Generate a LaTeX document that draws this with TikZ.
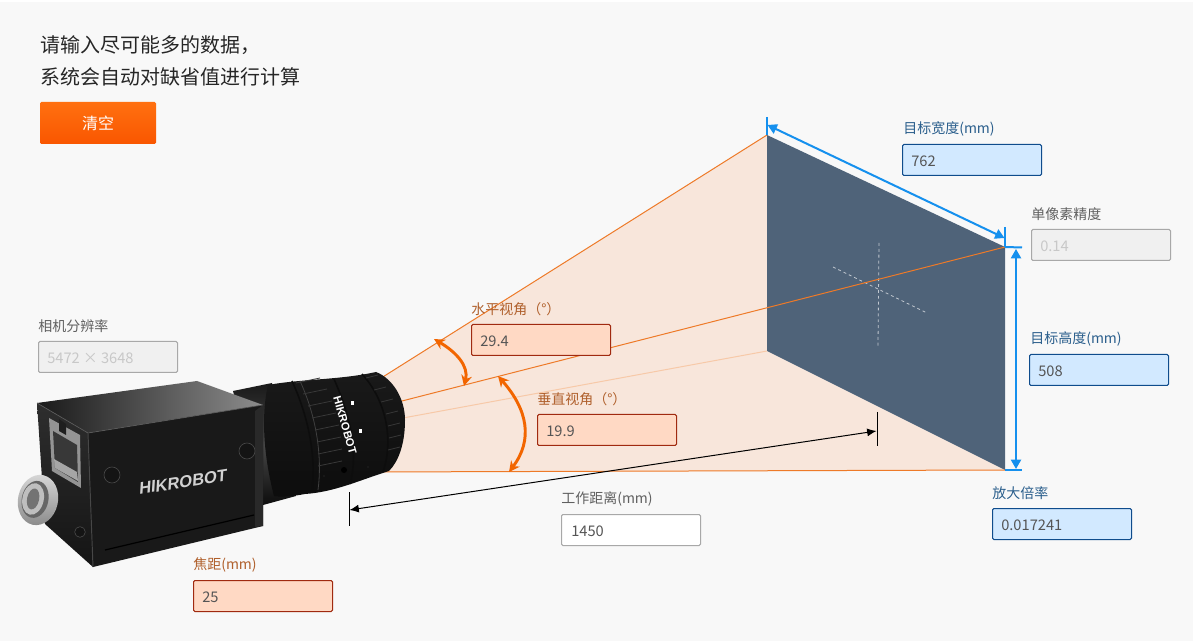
\documentclass[tikz,border=0pt]{standalone}
\usepackage{fontspec}
\setmainfont{Noto Sans CJK SC}
\setsansfont{Liberation Sans}
\newfontfamily\brandfont[FakeSlant=0.22]{Liberation Sans}
\usetikzlibrary{arrows.meta,calc}
\definecolor{pagebg}{HTML}{F8F8F8}
\definecolor{fanfill}{HTML}{F8E6DB}
\definecolor{fanline}{HTML}{EE7A28}
\definecolor{fanfaint}{HTML}{F7C9A8}
\definecolor{target}{HTML}{4F6379}
\definecolor{dimblue}{HTML}{1590EE}
\definecolor{arcor}{HTML}{F26500}
\definecolor{bluefill}{HTML}{D2E9FF}
\definecolor{blueedge}{HTML}{0F4C8C}
\definecolor{bluetxt}{HTML}{2A5E8C}
\definecolor{orfill}{HTML}{FFD9C4}
\definecolor{oredge}{HTML}{A02A10}
\definecolor{ortxt}{HTML}{B0602C}
\definecolor{greyfill}{HTML}{F0F0F0}
\definecolor{greyedge}{HTML}{A8A8A8}
\definecolor{greytxt}{HTML}{C8C8C8}
\definecolor{labtxt}{HTML}{606060}
\definecolor{valtxt}{HTML}{555555}
\definecolor{btntop}{HTML}{FF7010}
\definecolor{btnbot}{HTML}{F95600}
\tikzset{
  x=0.75pt,y=-0.75pt,
  field/.style={draw,line width=0.75pt,rounded corners=1pt,minimum width=104.25pt,minimum height=23.25pt,inner sep=0pt,outer sep=0pt,anchor=north west},
  fieldtext/.style={anchor=west,inner sep=0pt,font=\fontsize{11}{12}\selectfont,text=valtxt,yshift=-0.4pt},
  bluefield/.style={field,fill=bluefill,draw=blueedge},
  orfield/.style={field,fill=orfill,draw=oredge},
  greyfield/.style={field,fill=greyfill,draw=greyedge},
  whitefield/.style={field,fill=white,draw=greyedge},
  lab/.style={anchor=west,inner sep=0pt,font=\fontsize{10.5}{12}\selectfont,yshift=-0.6pt},
  fan/.style={draw=fanline,line width=0.75pt},
  dimb/.style={draw=dimblue,line width=1.5pt},
  dimbarrow/.style={dimb,{Triangle[length=7pt,width=7.5pt]}-{Triangle[length=7pt,width=7.5pt]}},
  dimk/.style={draw=black,line width=0.75pt},
  arcarrow/.style={draw=arcor,line width=2.2pt,{Stealth[length=8pt,width=8pt]}-{Stealth[length=8pt,width=8pt]}},
  rib/.style={draw=#1,line width=0.6pt},
  rib/.default=black!60,
  screw/.style={circle,fill=black!92,draw=black!72,line width=0.5pt,minimum size=12pt,inner sep=0pt},
}
\begin{document}
\begin{tikzpicture}
\useasboundingbox (0,0) rectangle (1196,641);
\fill[white] (0,0) rectangle (1196,641);
\fill[pagebg] (0,2) rectangle (1193,641);
% key points
\coordinate (tl) at (767,135);
\coordinate (tr) at (1005,247);
\coordinate (br) at (1005,470);
\coordinate (bl) at (767,351);
\coordinate (apxTop) at (378,380);
\coordinate (apxMid) at (398,402);
\coordinate (apxLow) at (403,418);
\coordinate (apxBot) at (372,472);
% fan
\fill[fanfill] (apxTop) -- (tl) -- (bl) -- (br) -- (apxBot) -- cycle;
\fill[target] (tl) -- (tr) -- (br) -- (bl) -- cycle;
\draw[fan] (apxTop) -- (tl);
\draw[draw=fanfaint,line width=0.75pt] (apxLow) -- (bl);
\draw[fan] (apxBot) -- (br);
% crosshair
\draw[draw=white!65!target,line width=0.6pt,dash pattern=on 2.2pt off 2.2pt] (879,243) -- (878,346);
\draw[draw=white!65!target,line width=0.6pt,dash pattern=on 2.2pt off 2.2pt] (833,267) -- (927,313);
\draw[fan] (apxMid) -- (tr);
% black working distance
\coordinate (wdA1) at (349,492); \coordinate (wdA2) at (349,526);
\coordinate (wdB1) at (877,412); \coordinate (wdB2) at (877,446);
\draw[dimk] (wdA1) -- (wdA2);
\draw[dimk] (wdB1) -- (wdB2);
\draw[dimk,{Latex[length=7pt,width=6pt]}-{Latex[length=7pt,width=6pt]}] (349.5,510) -- (876.5,431);
% blue dims
\coordinate (tw1) at (767,117);
\coordinate (tw2) at (1005,227);
\draw[dimb] (tw1) -- (tl);
\draw[dimb] (tw2) -- (tr);
\draw[dimb] (tr) -- (1022,247.5);
\draw[dimb] (br) -- (1022,470);
\draw[dimbarrow] (767.5,125) -- (1004.5,238);
\draw[dimbarrow] (1016,249) -- (1016,469);
% arcs
\draw[arcarrow] (434,339) .. controls (456,352) and (469,366) .. (464,386);
\draw[arcarrow] (498,376) .. controls (528,410) and (533,440) .. (509,472);
% ---------- camera ----------
% lens barrel
\shade[top color=black!90,bottom color=black!95,middle color=black!72] (233,391) -- (272,383) -- (296,496) -- (263,505) -- cycle;
% lens main
\shade[top color=black!90,middle color=black!65,bottom color=black!95]
 (268,385) .. controls (300,379) and (340,380) .. (376,372)
 .. controls (392,378) and (405,398) .. (405,420)
 .. controls (405,445) and (398,462) .. (389,471)
 .. controls (360,480) and (335,492) .. (305,494)
 .. controls (290,497) and (278,497) .. (274,496)
 .. controls (262,450) and (262,410) .. (268,385) -- cycle;
% ring edges
\draw[rib=black!95,line width=1.2pt] (292,381) .. controls (310,420) and (316,460) .. (312,491);
\draw[rib=black!95,line width=1.2pt] (334,379) .. controls (352,420) and (358,455) .. (350,484);
\draw[rib=black!95,line width=1.2pt] (362,374) .. controls (386,400) and (394,440) .. (383,472);
\draw[rib=black!75] (300,381) .. controls (318,420) and (322,460) .. (318,490);
% grip ribs
\foreach \a/\b in {296/383,303/394,308/406,312/418,315/430,317/442,318/454,318/466}{
  \draw[rib=black!78] (\a,\b) -- (\a+24,\b-5);
}
\foreach \a/\b in {366/378,374/390,381/402,386/414,388/426,389/438,388/450}{
  \draw[rib=black!78] (\a,\b) -- (\a+12,\b-3);
}
% lens marks
\fill[white] (351,401) rectangle +(3,4);
\fill[white] (359,429) rectangle +(3,4);
\fill[black] (344,470) circle (3);
\fill[black!90] (324,476) circle (1.3);
\fill[black!90] (368,467) circle (1.3);
\node[text=white,font=\sffamily\bfseries\fontsize{8.4}{9}\selectfont,rotate=-74,inner sep=0pt] (lenstxt) at (345,425) {HIKROBOT};
% body top
\shade[left color=black!90,right color=black!45] (37,403) -- (197,381) -- (263,405) -- (88,433) -- cycle;
% body front
\fill[black!90] (88,433) -- (263,405) -- (263,526) -- (93,567) -- cycle;
\fill[black!84] (255,411) -- (263,405) -- (263,526) -- (255,527) -- cycle;
% body left
\shade[top color=black!82,bottom color=black!92] (37,403) -- (88,433) -- (93,567) -- (45,524) -- cycle;
\draw[black!65,line width=0.5pt] (37,403) -- (88,433) -- (263,405);
\draw[black!72,line width=0.7pt] (88,433) -- (93,567);
\draw[black,line width=0.9pt] (105,550) -- (254,515);
% screws
\node[screw] (sc1) at (112,475) {};
\node[screw] (sc2) at (247,451) {};
% HIKROBOT
\node[text=black!18,font=\brandfont\bfseries\fontsize{12.5}{14}\selectfont,rotate=9,inner sep=0pt] (brand) at (182,482) {HIKROBOT};
% RJ45
\fill[black!42] (49,418) -- (80,435) -- (81,488) -- (52,471) -- cycle;
\fill[black!78] (53,431) -- (77,445) -- (78,482) -- (55,468) -- cycle;
\fill[black!35] (54,459) -- (77,472) -- (78,481) -- (55,468) -- cycle;
\fill[black!88] (59,419) -- (66,424) -- (66,435) -- (59,431) -- cycle;
% connector
\shade[top color=black!15,bottom color=black!45,rotate around={-12:(38,500)}] (38,500) ellipse (15pt and 19pt);
\fill[black!60,rotate around={-12:(38,500)}] (35,500) ellipse (10pt and 14pt);
\fill[black!25,rotate around={-12:(38,500)}] (33,500) ellipse (8pt and 12pt);
\fill[black!55,rotate around={-12:(38,500)}] (33,500) ellipse (4.5pt and 8pt);
\node[screw,minimum size=8pt] (sc3) at (80,532) {};
% ---------- fields ----------
\node[lab,text=labtxt] (cResL) at (38,325) {相机分辨率};
\node[greyfield] (cRes) at (38.5,341.5) {};
\node[fieldtext,text=greytxt] (cResV) at (47,357.5) {5472 × 3648};
\node[lab,text=ortxt] (fL) at (193,564) {焦距(mm)};
\node[orfield] (f) at (193.5,580.5) {};
\node[fieldtext] (fV) at (202,596.5) {25};
\node[lab,text=ortxt] (hL) at (471,308) {水平视角（°）};
\node[orfield] (h) at (471.5,324.5) {};
\node[fieldtext] (hV) at (480,340.5) {29.4};
\node[lab,text=ortxt] (vL) at (537,398) {垂直视角（°）};
\node[orfield] (v) at (537.5,414.5) {};
\node[fieldtext] (vV) at (546,430.5) {19.9};
\node[lab,text=labtxt] (wdL) at (561,498) {工作距离(mm)};
\node[whitefield] (wd) at (561.5,514.5) {};
\node[fieldtext] (wdV) at (571,530.5) {1450};
\node[lab,text=bluetxt] (twL) at (903,128) {目标宽度(mm)};
\node[bluefield] (tw) at (902.5,144.5) {};
\node[fieldtext] (twV) at (911,160.5) {762};
\node[lab,text=labtxt] (pxL) at (1031,213) {单像素精度};
\node[greyfield] (px) at (1031.5,229.5) {};
\node[fieldtext,text=greytxt] (pxV) at (1040,245.5) {0.14};
\node[lab,text=bluetxt] (thL) at (1030,338) {目标高度(mm)};
\node[bluefield] (th) at (1029.5,354.5) {};
\node[fieldtext] (thV) at (1038,370.5) {508};
\node[lab,text=bluetxt] (mgL) at (992,492) {放大倍率};
\node[bluefield] (mg) at (992.5,508.5) {};
\node[fieldtext] (mgV) at (1001,524.5) {0.017241};
% header
\node[anchor=west,inner sep=0pt,text=black!85,font=\fontsize{15}{16}\selectfont] (t1) at (40,45) {请输入尽可能多的数据，};
\node[anchor=west,inner sep=0pt,text=black!85,font=\fontsize{15}{16}\selectfont] (t2) at (40,77) {系统会自动对缺省值进行计算};
\shade[top color=btntop,bottom color=btnbot,rounded corners=1pt] (40,102) rectangle (156,144);
\node[text=white,inner sep=0pt,font=\fontsize{12}{14}\selectfont] (clr) at (98,123) {清空};
\end{tikzpicture}
\end{document}
